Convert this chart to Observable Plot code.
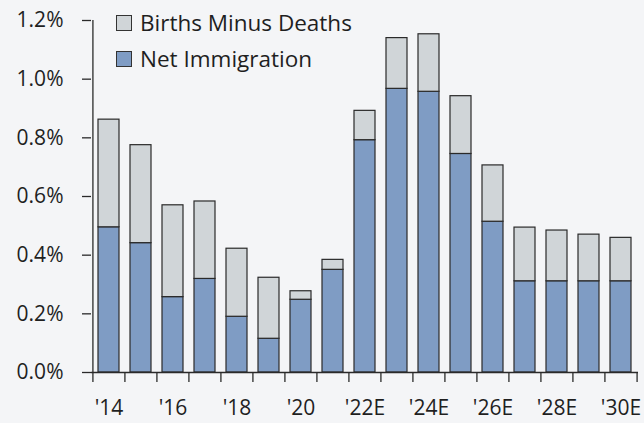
<!DOCTYPE html>
<html>
<head>
<meta charset="utf-8">
<script src="https://cdn.jsdelivr.net/npm/d3@7"></script>
<script src="https://cdn.jsdelivr.net/npm/@observablehq/plot@0.6"></script>
<style>
  html, body { margin: 0; padding: 0; background: #f4f5f7; }
  #wrap { position: relative; width: 644px; height: 423px; font-family: "Open Sans", "Noto Sans", sans-serif; }
  #legend { position: absolute; left: 116px; top: 5px; font-size: 22.5px; color: #1f1f1f; line-height: 36px; }
  #legend .row { display: flex; align-items: center; white-space: nowrap; }
  #legend .sw { width: 14px; height: 14px; border: 1px solid #333; margin-right: 8px; }
</style>
</head>
<body>
<div id="wrap"><div id="legend"></div></div>
<script>
const categories = ["'14","'15","'16","'17","'18","'19","'20","'21","'22E","'23E","'24E","'25E","'26E","'27E","'28E","'29E","'30E"];
const tickLabels = ["'14","'16","'18","'20","'22E","'24E","'26E","'28E","'30E"];
const netImmigration = [0.495,0.441,0.257,0.319,0.190,0.115,0.248,0.350,0.792,0.967,0.957,0.745,0.514,0.311,0.311,0.311,0.311];
const birthsMinusDeaths = [0.367,0.334,0.313,0.264,0.232,0.208,0.029,0.034,0.100,0.173,0.196,0.197,0.192,0.183,0.173,0.159,0.148];
const seriesNames = ["Net Immigration", "Births Minus Deaths"];
const seriesColors = ["#7f9cc4", "#d0d5d8"];
const yTicks = [0, 0.2, 0.4, 0.6, 0.8, 1.0, 1.2];

const data = [];
categories.forEach((c, i) => {
  data.push({cat: c, series: seriesNames[0], value: netImmigration[i]});
  data.push({cat: c, series: seriesNames[1], value: birthsMinusDeaths[i]});
});

const W = 644, H = 423, mL = 91, mR = 6, mT = 20, mB = 51;
const step = (W - mL - mR) / categories.length;

const chart = Plot.plot({
  width: W, height: H,
  marginLeft: mL, marginRight: mR, marginTop: mT, marginBottom: mB,
  style: {background: "#f4f5f7", fontFamily: "'Open Sans', 'Noto Sans', sans-serif", fontSize: "21px", color: "#1f1f1f", overflow: "visible"},
  x: {domain: categories, paddingInner: 0.33, paddingOuter: 0.165, label: null},
  y: {domain: [0, 1.2], label: null},
  color: {domain: seriesNames, range: seriesColors},
  marks: [
    Plot.barY(data, Plot.stackY({x: "cat", y: "value", fill: "series", order: seriesNames, stroke: "#2a2a2a", strokeWidth: 1.2})),
    Plot.ruleY([0], {stroke: "#2a2a2a", strokeWidth: 1.3}),
    Plot.ruleX([categories[0]], {dx: -step / 2, y1: 0, y2: 1.2, stroke: "#2a2a2a", strokeWidth: 1.3}),
    Plot.axisY({ticks: yTicks, tickSize: 9, tickPadding: 19, tickFormat: d => d.toFixed(1) + "%", stroke: "#2a2a2a", strokeWidth: 1.3, label: null, fontSize: 21}),
    Plot.axisX({ticks: categories, tickSize: 10, text: null, dx: -step / 2, stroke: "#2a2a2a", strokeWidth: 1.3, label: null}),
    Plot.axisX({ticks: [categories[categories.length - 1]], tickSize: 10, text: null, dx: step / 2, stroke: "#2a2a2a", strokeWidth: 1.3, label: null}),
    Plot.axisX({ticks: tickLabels, tickSize: 0, tickPadding: 28, label: null, fontSize: 21})
  ]
});
document.getElementById("wrap").insertBefore(chart, document.getElementById("legend"));

const legend = document.getElementById("legend");
[[seriesNames[1], seriesColors[1]], [seriesNames[0], seriesColors[0]]].forEach(([name, col]) => {
  const row = document.createElement("div");
  row.className = "row";
  const sw = document.createElement("span");
  sw.className = "sw";
  sw.style.background = col;
  const t = document.createElement("span");
  t.textContent = name;
  row.appendChild(sw); row.appendChild(t);
  legend.appendChild(row);
});
</script>
</body>
</html>
